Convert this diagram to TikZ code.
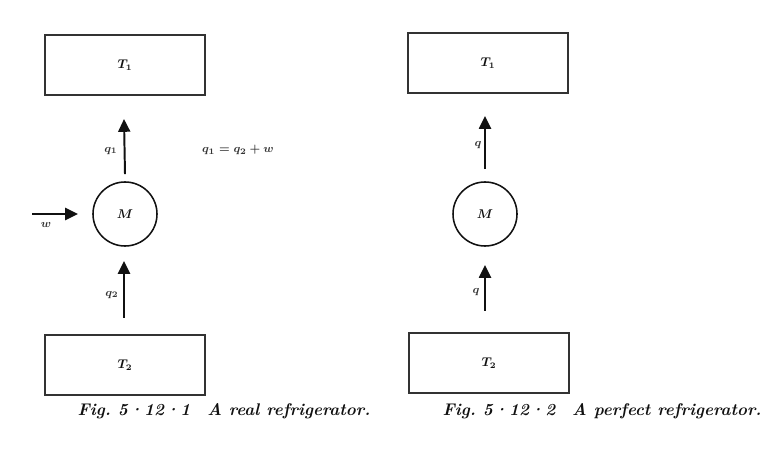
\documentclass[tikz,border=0pt]{standalone}
\usepackage{amsmath,amssymb}
\usepackage{xcolor}
\usepackage{tikz}
\usetikzlibrary{arrows.meta,positioning}
\definecolor{rfInk}{HTML}{111111}
\definecolor{rfMuted}{HTML}{333333}
\tikzset{
  rf diagram/.style={x=0.025cm, y=-0.025cm, text=rfInk,
    line cap=butt, line join=miter},
  rf box/.style={draw=rfMuted, fill=white, line width=1pt,
    minimum width=4cm, minimum height=1.5cm, inner sep=0pt,
    font=\small},
  rf engine/.style={circle, draw=rfInk, line width=1.1pt,
    minimum size=1.6cm, inner sep=0pt, font=\small},
  rf arrow/.style={-{Triangle[length=3.2mm,width=3mm]}, draw=rfInk, line width=1.4pt},
  rf label/.style={font=\footnotesize, text=rfMuted, inner sep=1pt},
  rf caption/.style={font=\large\bfseries\itshape, text=rfInk}
}
\newcommand{\figdot}{\kern0.5pt\textperiodcentered\kern0.5pt}

\begin{document}
\begin{tikzpicture}[rf diagram]
\useasboundingbox (0,0) rectangle (780,457);
% real refrigerator
\node[rf box] (hotA) at (125,65) {$\boldsymbol{T_1}$};
\node[rf engine] (engA) at (125,214) {$\boldsymbol{M}$};
\node[rf box] (coldA) at (125,365) {$\boldsymbol{T_2}$};
\coordinate (outA) at (124,119);
\coordinate (inA) at (124,318);
\coordinate (workA) at (32,214);
\coordinate (workEndA) at (78,214);
\draw[rf arrow] (engA.north) ++(0,-7) coordinate (startA) (startA) -- (outA);
\draw[rf arrow] (inA) -- ++(0,-57) coordinate (endA);
\draw[rf arrow] (workA) -- (workEndA);
\node[rf label] (qoneA) at (111,151) {$\boldsymbol{q_1}$};
\node[rf label] (qtwoA) at (112,295) {$\boldsymbol{q_2}$};
\node[rf label] (wA) at (46,225) {$\boldsymbol{w}$};
\node[rf label] (eqA) at (238,150) {$\boldsymbol{q_1 = q_2 + w}$};
\node[rf caption] (capA) at (224,411) {Fig.~5\figdot12\figdot1\quad A real refrigerator.};
% perfect refrigerator
\node[rf box] (hotB) at (488,63) {$\boldsymbol{T_1}$};
\node[rf engine] (engB) at (485,214) {$\boldsymbol{M}$};
\node[rf box] (coldB) at (489,363) {$\boldsymbol{T_2}$};
\coordinate (outB) at (485,116);
\coordinate (inB) at (485,311);
\draw[rf arrow] (engB.north) ++(0,-12) coordinate (startB) (startB) -- (outB);
\draw[rf arrow] (inB) -- ++(0,-46) coordinate (endB);
\node[rf label] (qoneB) at (478,145) {$\boldsymbol{q}$};
\node[rf label] (qtwoB) at (476,292) {$\boldsymbol{q}$};
\node[rf caption] (capB) at (602,411) {Fig.~5\figdot12\figdot2\quad A perfect refrigerator.};
\end{tikzpicture}
\end{document}
